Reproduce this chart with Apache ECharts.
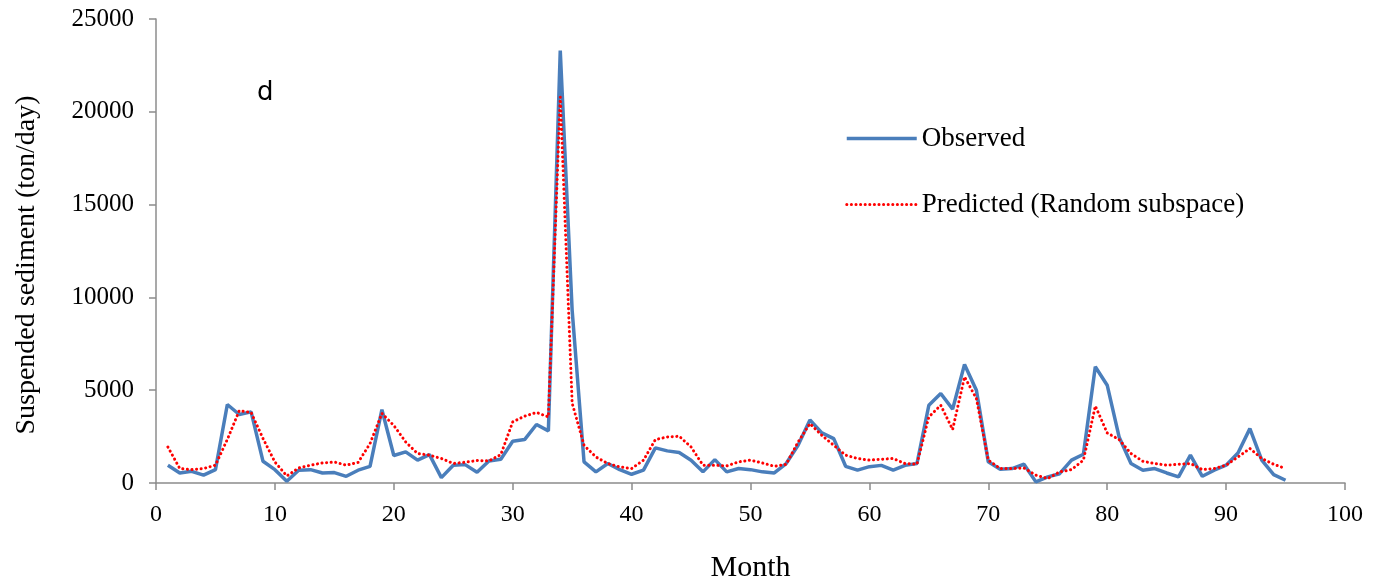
<!DOCTYPE html>
<html>
<head>
<meta charset="utf-8">
<script src="https://cdn.jsdelivr.net/npm/echarts@6/dist/echarts.min.js"></script>
<style>
  html, body { margin: 0; padding: 0; background: #fff; }
  #chart { width: 1383px; height: 588px; }
</style>
</head>
<body>
<div id="chart"></div>
<script>
// month index 1..95
const months = Array.from({ length: 95 }, (_, i) => i + 1)

// observed suspended sediment (ton/day)
const observed = [
  960, 540, 630, 420, 720, 4230, 3690, 3830, 1170, 720,
  90, 690, 720, 540, 560, 360, 690, 900, 3950, 1480,
  1680, 1230, 1530, 290, 960, 990, 580, 1190, 1280, 2250,
  2340, 3150, 2810, 23300, 9300, 1140, 600, 1050, 720, 470,
  690, 1890, 1730, 1640, 1230, 600, 1260, 600, 780, 720,
  600, 540, 1050, 2030, 3400, 2700, 2390, 900, 690, 880,
  950, 690, 950, 1050, 4190, 4820, 3980, 6390, 5000, 1140,
  740, 780, 1010, 60, 330, 500, 1230, 1550, 6260, 5270,
  2480, 1050, 690, 780, 540, 330, 1500, 360, 690, 960,
  1620, 2930, 1230, 450, 150
]

// predicted (random subspace)
const predicted = [
  1940, 780, 720, 780, 960, 2350, 3900, 3800, 2400, 1130,
  380, 810, 960, 1080, 1130, 960, 1110, 2120, 3750, 3100,
  2210, 1590, 1500, 1320, 1050, 1120, 1210, 1190, 1530, 3290,
  3600, 3800, 3560, 20800, 4300, 2030, 1400, 1050, 870, 780,
  1230, 2340, 2480, 2520, 1940, 960, 960, 920, 1140, 1230,
  1080, 900, 1010, 2210, 3200, 2570, 2030, 1500, 1320, 1230,
  1280, 1320, 1050, 1010, 3560, 4190, 2880, 5720, 4550, 1230,
  780, 780, 810, 420, 240, 600, 720, 1230, 4150, 2700,
  2340, 1590, 1170, 1050, 960, 1010, 1050, 720, 780, 960,
  1400, 1860, 1320, 1010, 780
]

const chart = echarts.init(document.getElementById("chart"))
const serif = "Liberation Serif"
const axisColor = "#8c8c8c"
const obsLine = { color: "#4a7ebb", width: 3.5 }
const predLine = { color: "#ff0000", width: 3, type: [0.1, 4.5], cap: "round" }

chart.setOption({
  animation: false,
  grid: { left: 156, right: 38, top: 19, bottom: 105 },
  legend: {
    left: 840,
    top: 120,
    orient: "vertical",
    itemWidth: 70,
    itemHeight: 14,
    itemGap: 39,
    itemStyle: { opacity: 0 },
    textStyle: { fontFamily: serif, fontSize: 27, color: "#000" },
    data: [
      { name: "Observed", lineStyle: obsLine },
      { name: "Predicted (Random subspace)", lineStyle: predLine }
    ]
  },
  graphic: [
    {
      type: "text",
      left: 257,
      top: 80,
      style: { text: "d", font: "26px 'DejaVu Sans'", fill: "#000" }
    }
  ],
  xAxis: {
    type: "value",
    min: 0,
    max: 100,
    interval: 10,
    name: "Month",
    nameLocation: "middle",
    nameGap: 70,
    nameTextStyle: { fontFamily: serif, fontSize: 30, color: "#000" },
    axisLine: { lineStyle: { color: axisColor, width: 1.5 } },
    axisTick: { length: 7, lineStyle: { color: axisColor, width: 1.5 } },
    axisLabel: { fontFamily: serif, fontSize: 24, color: "#000", margin: 20 },
    splitLine: { show: false }
  },
  yAxis: {
    type: "value",
    min: 0,
    max: 25000,
    interval: 5000,
    name: "Suspended sediment (ton/day)",
    nameLocation: "middle",
    nameGap: 115,
    nameTextStyle: { fontFamily: serif, fontSize: 28, color: "#000", padding: [0, 28, 0, 0] },
    axisLine: { show: true, lineStyle: { color: axisColor, width: 1.5 } },
    axisTick: { show: true, length: 7, lineStyle: { color: axisColor, width: 1.5 } },
    axisLabel: {
      fontFamily: serif, fontSize: 25, color: "#000", margin: 22,
      formatter: v => String(v)
    },
    splitLine: { show: false }
  },
  series: [
    {
      name: "Observed",
      type: "line",
      data: months.map((m, i) => [m, observed[i]]),
      symbol: "none",
      z: 2,
      lineStyle: obsLine,
      itemStyle: { color: "#4a7ebb" }
    },
    {
      name: "Predicted (Random subspace)",
      type: "line",
      data: months.map((m, i) => [m, predicted[i]]),
      symbol: "none",
      z: 3,
      lineStyle: predLine,
      itemStyle: { color: "#ff0000" }
    }
  ]
})
</script>
</body>
</html>
